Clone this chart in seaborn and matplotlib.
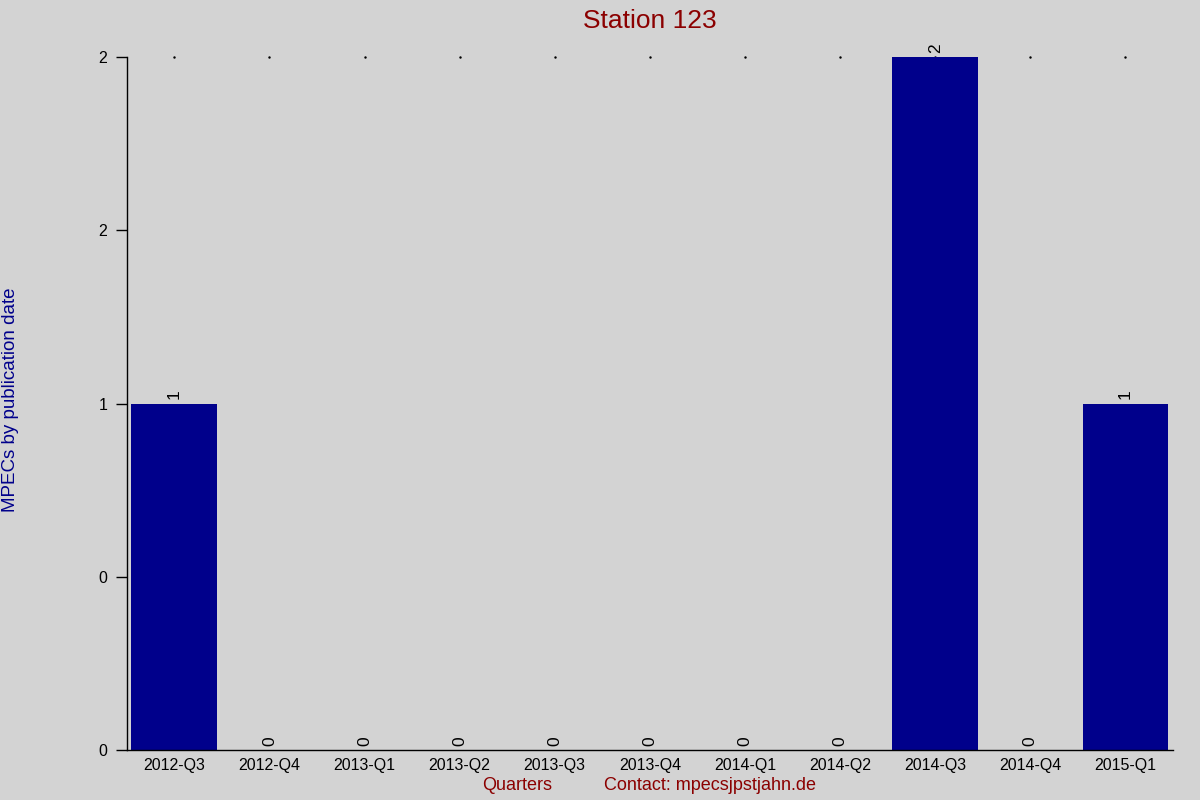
import numpy as np
import pandas as pd
import matplotlib
matplotlib.use("Agg")
import matplotlib.pyplot as plt
import seaborn as sns
from matplotlib.ticker import FuncFormatter

# Datos
quarters = ["2012-Q3", "2012-Q4", "2013-Q1", "2013-Q2", "2013-Q3", "2013-Q4",
            "2014-Q1", "2014-Q2", "2014-Q3", "2014-Q4", "2015-Q1"]
mpecs = [1, 0, 0, 0, 0, 0, 0, 0, 2, 0, 1]
y_ticks = [0, 0.5, 1, 1.5, 2]

BG = "#D3D3D3"
BAR = "#00008B"
RED = "#8B0000"

sns.set_theme(style="white")
plt.rcParams["font.family"] = ["Liberation Sans", "DejaVu Sans"]

df = pd.DataFrame({"quarter": quarters, "count": mpecs})

fig = plt.figure(figsize=(12, 8), dpi=100, facecolor=BG)
ax = fig.add_axes([0.1056, 0.0625, 0.8719, 0.86625])
ax.set_facecolor(BG)

sns.barplot(data=df, x="quarter", y="count", color=BAR, saturation=1,
            width=0.9, linewidth=0, zorder=2, ax=ax)

# etiquetas sobre las barras
for cont in ax.containers:
    ax.bar_label(cont, labels=[str(v) for v in mpecs], rotation=90,
                 padding=3, fontsize=12.5, color="black")

# puntitos en el borde superior
ymax = max(mpecs)
ax.plot(range(len(quarters)), [ymax] * len(quarters), ls="none",
        marker="s", ms=0.7, color="black", clip_on=False, zorder=1)

ax.set_xlim(-0.5, len(quarters) - 0.5)
ax.set_ylim(0, ymax)
ax.set_yticks(y_ticks)
ax.yaxis.set_major_formatter(FuncFormatter(lambda v, _: f"{round(v)}"))

for side in ["top", "right"]:
    ax.spines[side].set_visible(False)
for side in ["left", "bottom"]:
    ax.spines[side].set_color("black")
    ax.spines[side].set_linewidth(1)

ax.tick_params(axis="x", length=0, labelsize=11.5, colors="black", pad=6)
ax.tick_params(axis="y", length=8, width=1, direction="out", labelsize=11.5,
               colors="black", pad=6, left=True)
ax.set_xlabel("")
ax.set_ylabel("")

ax.set_title("Station 123", color=RED, fontsize=19, pad=21)
fig.text(0.009, 0.5, "MPECs by publication date", rotation=90, color=BAR,
         fontsize=13.5, ha="center", va="center")
fig.text(0.431, 0.0175, "Quarters", color=RED, fontsize=13, ha="center",
         va="center")
fig.text(0.592, 0.0175, "Contact: mpecsjpstjahn.de", color=RED, fontsize=13,
         ha="center", va="center")

fig.savefig("out.png", dpi=100, facecolor=BG)
